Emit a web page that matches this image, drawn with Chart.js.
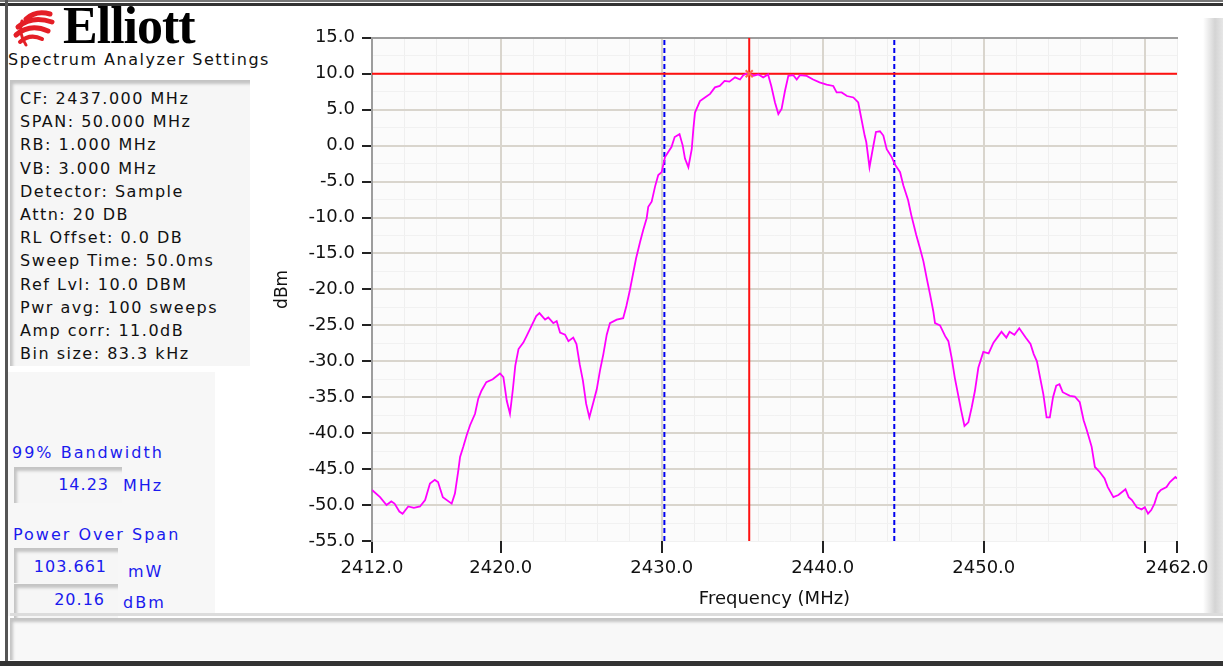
<!DOCTYPE html>
<html>
<head>
<meta charset="utf-8">
<script src="https://cdn.jsdelivr.net/npm/chart.js@4.4.1/dist/chart.umd.min.js"></script>
<style>
  html, body { margin: 0; padding: 0; background: #fff; }
  body { width: 1223px; height: 666px; position: relative; overflow: hidden;
         font-family: "DejaVu Sans", sans-serif; color: #111; }
  .abs { position: absolute; }
  .txt { font-size: 16px; letter-spacing: 1.5px; white-space: nowrap; line-height: 20px; }
  .blue { color: #1a1aee; letter-spacing: 2px; }
  .inset { background: #f6f6f6;
           box-shadow: inset 4px 5px 3px -1px #c4c4c4; }
  .val { text-align: right; box-sizing: border-box; letter-spacing: 1px; }
</style>
</head>
<body>

<!-- window frame -->
<div class="abs" style="left:0;top:0;width:1223px;height:2px;background:#777"></div>
<div class="abs" style="left:0;top:3px;width:1223px;height:3px;background:#333"></div>
<div class="abs" style="left:5px;top:0;width:3px;height:666px;background:#555"></div>
<div class="abs" style="left:0;top:661px;width:1223px;height:5px;background:#333"></div>
<div class="abs" style="left:1203px;top:18px;width:20px;height:597px;
     background:linear-gradient(to right,#ffffff,#d4d4d4 60%,#e6e6e6)"></div>

<!-- logo -->
<svg class="abs" style="left:12px;top:9px" width="52" height="40" viewBox="0 0 52 40">
  <g fill="none" stroke="#e41e26" stroke-linecap="round">
    <path d="M14 10 Q24 1 38 5" stroke-width="5"/>
    <path d="M6 18 Q20 6 40 13" stroke-width="5"/>
    <path d="M4 26 Q18 14 36 22" stroke-width="5"/>
    <path d="M8 33 Q18 24 30 30" stroke-width="4"/>
    <path d="M10 12 Q6 24 14 36" stroke-width="3"/>
  </g>
</svg>
<div class="abs" style="left:63px;top:-4px;font-family:'Liberation Serif',serif;font-weight:bold;
     font-size:52px;letter-spacing:-1px;line-height:60px;color:#000">Elliott</div>
<div class="abs txt" style="left:8px;top:50px">Spectrum Analyzer Settings</div>

<!-- settings box -->
<div class="abs inset" id="settings" style="left:10px;top:80px;width:240px;height:286px;
     box-sizing:border-box;padding:7px 0 0 10px"></div>

<!-- results panel -->
<div class="abs" style="left:8px;top:372px;width:207px;height:244px;background:#f7f7f7"></div>
<div class="abs txt blue" style="left:12px;top:443px">99% Bandwidth</div>
<div class="abs txt blue inset val" style="left:14px;top:467px;width:108px;height:36px;padding:8px 13px 0 0">14.23</div>
<div class="abs txt blue" style="left:123px;top:476px">MHz</div>
<div class="abs txt blue" style="left:13px;top:525px">Power Over Span</div>
<div class="abs txt blue inset val" style="left:14px;top:548px;width:104px;height:35px;padding:9px 11px 0 0">103.661</div>
<div class="abs txt blue" style="left:128px;top:562px">mW</div>
<div class="abs txt blue inset val" style="left:14px;top:584px;width:104px;height:34px;padding:6px 13px 0 0">20.16</div>
<div class="abs txt blue" style="left:123px;top:593px">dBm</div>

<!-- status bar -->
<div class="abs" style="left:10px;top:613px;width:1213px;height:3px;background:#dcdcdc"></div>
<div class="abs inset" style="left:10px;top:618px;width:1213px;height:42px;background:#f8f8f8"></div>

<canvas id="spectrum" class="abs" style="left:260px;top:20px" width="955" height="595"></canvas>

<script>
// ---- SETTINGS TEXT ----
const SETTINGS_LINES = [
  'CF: 2437.000 MHz', 'SPAN: 50.000 MHz', 'RB: 1.000 MHz', 'VB: 3.000 MHz',
  'Detector: Sample', 'Attn: 20 DB', 'RL Offset: 0.0 DB', 'Sweep Time: 50.0ms',
  'Ref Lvl: 10.0 DBM', 'Pwr avg: 100 sweeps', 'Amp corr: 11.0dB', 'Bin size: 83.3 kHz',
];

// ---- TRACE ----
const FREQ_MHZ = [
  2412.0, 2412.5, 2412.9, 2413.2, 2413.4, 2413.7, 2413.9, 2414.25, 2414.6, 2414.98,
  2415.3, 2415.6, 2415.9, 2416.1, 2416.4, 2416.95, 2417.15, 2417.36, 2417.47, 2417.67,
  2417.88, 2418.09, 2418.4, 2418.6, 2418.8, 2419.1, 2419.5, 2419.95, 2420.16, 2420.37,
  2420.57, 2420.74, 2420.9, 2421.1, 2421.4, 2421.6, 2421.9, 2422.2, 2422.4, 2422.75,
  2422.95, 2423.26, 2423.47, 2423.68, 2423.99, 2424.2, 2424.5, 2424.7, 2424.9, 2425.1,
  2425.3, 2425.5, 2425.75, 2425.96, 2426.16, 2426.37, 2426.58, 2426.78, 2427.2, 2427.6,
  2427.8, 2428.0, 2428.2, 2428.4, 2428.65, 2428.85, 2429.06, 2429.16, 2429.37, 2429.58,
  2429.78, 2429.99, 2430.2, 2430.4, 2430.6, 2430.8, 2431.1, 2431.3, 2431.44, 2431.65,
  2431.86, 2431.96, 2432.06, 2432.37, 2432.68, 2433.0, 2433.3, 2433.6, 2433.9, 2434.2,
  2434.55, 2434.86, 2435.06, 2435.37, 2435.7, 2436.0, 2436.3, 2436.6, 2436.8, 2437.03,
  2437.24, 2437.44, 2437.65, 2437.86, 2438.17, 2438.38, 2438.58, 2439.0, 2439.4, 2439.8,
  2440.24, 2440.65, 2440.86, 2441.17, 2441.5, 2441.9, 2442.2, 2442.4, 2442.6, 2442.7,
  2442.9, 2443.1, 2443.3, 2443.55, 2443.76, 2443.97, 2444.28, 2444.5, 2444.8, 2445.0,
  2445.3, 2445.5, 2445.7, 2445.8, 2446.04, 2446.25, 2446.45, 2446.66, 2446.86, 2446.97,
  2447.28, 2447.6, 2447.8, 2448.0, 2448.2, 2448.4, 2448.6, 2448.8, 2449.04, 2449.25,
  2449.45, 2449.66, 2449.97, 2450.3, 2450.6, 2450.9, 2451.1, 2451.4, 2451.6, 2451.9,
  2452.2, 2452.6, 2452.9, 2453.1, 2453.3, 2453.5, 2453.7, 2453.9, 2454.1, 2454.3,
  2454.5, 2454.7, 2454.9, 2455.35, 2455.65, 2455.96, 2456.2, 2456.4, 2456.7, 2456.9,
  2457.2, 2457.5, 2457.7, 2458.05, 2458.36, 2458.8, 2459.0, 2459.2, 2459.5, 2459.8,
  2460.0, 2460.2, 2460.4, 2460.6, 2460.8, 2461.0, 2461.35, 2461.56, 2461.9, 2462.0,
];
const LEVEL_DBM = [
  -47.9, -48.9, -50.0, -49.5, -49.8, -50.9, -51.2, -50.2, -50.4, -50.2,
  -49.3, -47.0, -46.5, -46.8, -48.9, -49.8, -48.4, -45.2, -43.3, -41.9,
  -40.3, -38.9, -37.3, -35.2, -34.1, -32.9, -32.5, -31.7, -32.2, -35.5,
  -37.3, -34.1, -30.6, -28.3, -27.4, -26.5, -25.1, -23.7, -23.3, -24.2,
  -23.9, -24.7, -24.4, -26.0, -26.3, -27.2, -26.7, -27.6, -30.4, -32.7,
  -35.9, -37.8, -35.7, -33.9, -31.3, -29.0, -26.3, -24.7, -24.2, -24.0,
  -22.3, -20.3, -18.0, -15.7, -13.4, -11.7, -10.1, -8.5, -7.8, -5.7,
  -4.1, -3.7, -1.6, -0.9, -0.2, 1.2, 1.6, 0.0, -1.8, -3.0,
  -0.5, 2.3, 4.6, 6.2, 6.7, 7.2, 8.1, 8.3, 9.0, 8.9,
  9.5, 9.2, 9.8, 10.1, 9.7, 9.9, 9.5, 9.9, 8.3, 6.0,
  4.4, 5.1, 7.6, 9.7, 9.8, 9.2, 9.8, 9.7, 9.2, 8.8,
  8.5, 8.3, 7.4, 7.4, 6.9, 6.7, 6.0, 3.7, 1.4, 0.5,
  -3.0, -0.5, 1.9, 2.0, 1.4, -0.5, -1.6, -2.7, -3.7, -5.5,
  -7.6, -9.7, -11.5, -12.4, -14.3, -16.1, -18.4, -20.7, -23.0, -24.7,
  -25.0, -26.5, -27.2, -29.5, -32.3, -34.6, -36.9, -39.0, -38.5, -36.4,
  -34.1, -30.9, -28.7, -28.9, -27.4, -26.5, -25.9, -26.7, -25.9, -26.3,
  -25.4, -26.7, -27.6, -29.0, -30.0, -32.3, -34.6, -37.8, -37.8, -35.0,
  -33.4, -33.2, -34.3, -34.8, -34.9, -35.7, -38.2, -39.6, -41.9, -44.7,
  -45.4, -46.3, -47.5, -48.9, -48.6, -47.8, -48.9, -49.3, -50.3, -50.6,
  -50.3, -51.2, -50.7, -49.8, -48.4, -47.9, -47.5, -46.8, -46.1, -46.3,
];

// ---- MARKERS ----
const BW_EDGES_MHZ = [2430.16, 2444.44];   // 99% bandwidth edges
const MARKER_FREQ_MHZ = 2435.43;
const REF_LEVEL_DBM = 10.0;

// ---- AXES ----
const X_MIN = 2412, X_MAX = 2462;
const Y_MIN = -55, Y_MAX = 15;
const X_TICKS = [2412, 2420, 2430, 2440, 2450, 2460, 2462];
const X_TICK_LABELS = ['2412.0', '2420.0', '2430.0', '2440.0', '2450.0', '', '2462.0'];
const Y_TICKS = [15, 10, 5, 0, -5, -10, -15, -20, -25, -30, -35, -40, -45, -50, -55];

document.getElementById('settings').innerHTML =
  SETTINGS_LINES.map(t => `<div class="txt" style="line-height:23.2px">${t}</div>`).join('');

const FONT = '"DejaVu Sans", sans-serif';
const GRID = '#d9d5cd';
const FRAME = '#9d9d9d';

const plotBg = {
  id: 'plotBg',
  beforeDraw(chart) {
    const { ctx, chartArea: a } = chart;
    ctx.save();
    ctx.fillStyle = '#fbfbfb';
    ctx.fillRect(a.left, a.top, a.right - a.left, a.bottom - a.top);
    ctx.restore();
  },
};

const vline = x => [{ x, y: Y_MIN }, { x, y: Y_MAX }];

new Chart(document.getElementById('spectrum'), {
  type: 'line',
  data: {
    datasets: [
      {
        data: [{ x: MARKER_FREQ_MHZ, y: REF_LEVEL_DBM }],
        showLine: false,
        pointStyle: 'crossRot',
        pointRadius: 5,
        pointBorderWidth: 2,
        pointBorderColor: '#ff6a4a',
      },
      {
        data: FREQ_MHZ.map((f, i) => ({ x: f, y: LEVEL_DBM[i] })),
        borderColor: '#ff00ff',
        borderWidth: 1.8,
        pointRadius: 0,
        tension: 0,
      },
      {
        data: [{ x: X_MIN, y: REF_LEVEL_DBM }, { x: X_MAX, y: REF_LEVEL_DBM }],
        borderColor: '#ff1010',
        borderWidth: 2,
        pointRadius: 0,
      },
      {
        data: vline(MARKER_FREQ_MHZ),
        borderColor: '#ff1010',
        borderWidth: 2,
        pointRadius: 0,
      },
      ...BW_EDGES_MHZ.map(f => ({
        data: vline(f),
        borderColor: '#0000ee',
        borderWidth: 2,
        borderDash: [5, 3],
        pointRadius: 0,
      })),
    ],
  },
  options: {
    responsive: false,
    animation: false,
    devicePixelRatio: 1,
    layout: { padding: { top: 15, right: 38, left: 0, bottom: 0 } },
    plugins: { legend: { display: false }, tooltip: { enabled: false } },
    scales: {
      xMinor: {
        type: 'linear', position: 'bottom', min: X_MIN, max: X_MAX,
        ticks: { display: false, stepSize: 2 },
        grid: { color: '#efefef', lineWidth: 1, drawTicks: false },
        border: { display: false },
      },
      yMinor: {
        type: 'linear', position: 'left', min: Y_MIN, max: Y_MAX,
        ticks: { display: false, stepSize: 2.5 },
        grid: { color: '#f1f1f1', lineWidth: 1, drawTicks: false },
        border: { display: false },
      },
      xTop: {
        type: 'linear', position: 'top', min: X_MIN, max: X_MAX,
        ticks: { display: false },
        grid: { display: false, drawTicks: false },
        border: { display: true, color: FRAME, width: 2 },
      },
      x: {
        type: 'linear', position: 'bottom', min: X_MIN, max: X_MAX,
        afterBuildTicks(scale) { scale.ticks = X_TICKS.map(v => ({ value: v })); },
        afterFit(scale) { scale.height = 74; },
        ticks: {
          autoSkip: false, maxRotation: 0, minRotation: 0, padding: 5,
          color: '#111', font: { family: FONT, size: 18 },
          callback: (v, i) => X_TICK_LABELS[i],
        },
        grid: {
          lineWidth: 2, tickLength: 12, tickColor: '#222', tickWidth: 2,
          color: c => (c.tick && (c.tick.value === X_MIN || c.tick.value === X_MAX)) ? 'rgba(0,0,0,0)' : GRID,
        },
        border: { display: false },
        title: {
          display: true, text: 'Frequency (MHz)', color: '#111',
          font: { family: FONT, size: 18 }, padding: { top: 4, bottom: 5 },
        },
      },
      y: {
        type: 'linear', position: 'left', min: Y_MIN, max: Y_MAX,
        afterBuildTicks(scale) { scale.ticks = Y_TICKS.map(v => ({ value: v })); },
        afterFit(scale) { scale.width = 112; },
        ticks: {
          padding: 7, color: '#111', font: { family: FONT, size: 18 },
          callback: v => v.toFixed(1),
        },
        grid: {
          lineWidth: 2, tickLength: 10, tickColor: '#222', tickWidth: 2,
          color: c => (c.tick && (c.tick.value === Y_MIN || c.tick.value === Y_MAX)) ? 'rgba(0,0,0,0)' : GRID,
        },
        border: { display: true, color: FRAME, width: 2 },
        title: {
          display: true, text: 'dBm', color: '#111',
          font: { family: FONT, size: 17 }, padding: { top: 12, bottom: 0 },
        },
      },
    },
  },
  plugins: [plotBg],
});
</script>
</body>
</html>
